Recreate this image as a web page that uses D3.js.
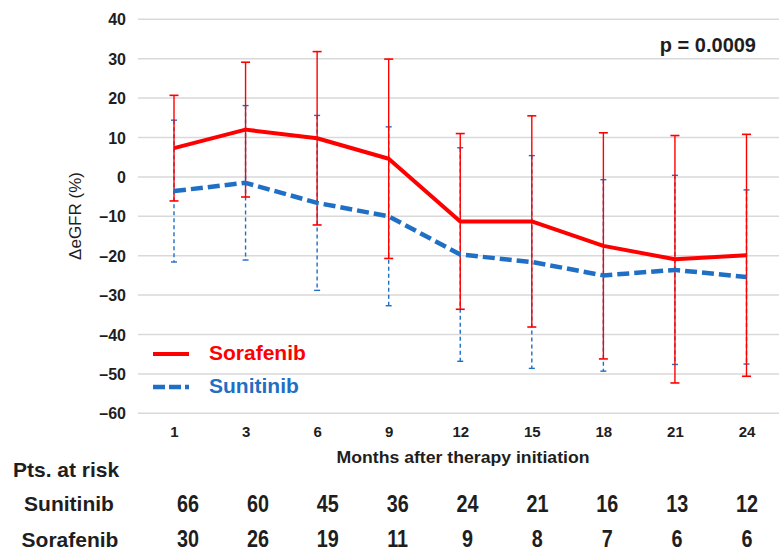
<!DOCTYPE html>
<html><head><meta charset="utf-8">
<script src="https://cdn.jsdelivr.net/npm/d3@7/dist/d3.min.js"></script>
<style>
html,body{margin:0;padding:0;background:#fff;}
svg{display:block;font-family:Arial,"Liberation Sans",sans-serif;}
</style></head>
<body><svg id="c" width="779" height="552"></svg>
<script>
const months = ["1","3","6","9","12","15","18","21","24"];
const sorafenibMean = [7.3, 12.0, 9.8, 4.6, -11.3, -11.3, -17.5, -20.9, -19.9];
const sorafenibSD   = [13.4, 17.1, 22.0, 25.3, 22.3, 26.8, 28.7, 31.4, 30.7];
const sunitinibMean = [-3.6, -1.5, -6.6, -10.0, -19.7, -21.6, -25.0, -23.6, -25.4];
const sunitinibSD   = [18.0, 19.6, 22.2, 22.7, 27.1, 27.0, 24.3, 24.0, 22.1];
const yTicks = [40, 30, 20, 10, 0, -10, -20, -30, -40, -50, -60];
const atRiskSunitinib = [66, 60, 45, 36, 24, 21, 16, 13, 12];
const atRiskSorafenib = [30, 26, 19, 11, 9, 8, 7, 6, 6];
const seriesNames = ["Sorafenib", "Sunitinib"];
const pText = "p = 0.0009";

const RED = "#ff0000", BLUE = "#1f6fc5", TXT = "#1e1e1e";
const FONT = "Arial, 'Liberation Sans', sans-serif";
const svg = d3.select("#c");

const x = d3.scalePoint().domain(months).range([174, 746.5]);
const y = d3.scaleLinear().domain([-60, 40]).range([413.3, 19.3]);
const xt = d3.scalePoint().domain(months).range([188, 747]);

// gridlines
svg.append("g").selectAll("line").data(yTicks).join("line")
  .attr("x1", 138).attr("x2", 779)
  .attr("y1", d => y(d)).attr("y2", d => y(d))
  .attr("stroke", "#d9d9d9").attr("stroke-width", 1.5);

// y axis
const yAxis = d3.axisLeft(y).tickValues(yTicks).tickSize(0).tickPadding(0)
  .tickFormat(d => d < 0 ? "\u2013" + Math.abs(d) : String(d));
const gy = svg.append("g").attr("transform", "translate(126,0)").call(yAxis);
gy.select(".domain").remove();
gy.attr("font-family", FONT).attr("font-size", 16);
gy.selectAll("text").attr("font-size", 16).attr("font-weight", "bold").attr("fill", TXT)
  .attr("dy", "0.35em");

// x axis labels
const xAxis = d3.axisBottom(x).tickSize(0).tickPadding(0);
const gx = svg.append("g").attr("transform", "translate(0,426)").call(xAxis);
gx.select(".domain").remove();
gx.attr("font-family", FONT).attr("font-size", 15);
gx.selectAll("text").attr("font-size", 15).attr("font-weight", "bold").attr("fill", TXT)
  .attr("dy", "0.7em");

// y title
svg.append("text").attr("transform", "translate(81,216) rotate(-90)")
  .attr("text-anchor", "middle").attr("font-size", 17).attr("fill", TXT)
  .text("\u0394eGFR (%)");

// Sunitinib error bars (dashed, behind)
const sunData = months.map((m, i) => ({m, mean: sunitinibMean[i], sd: sunitinibSD[i]}));
const sorData = months.map((m, i) => ({m, mean: sorafenibMean[i], sd: sorafenibSD[i]}));
const gSunErr = svg.append("g");
gSunErr.selectAll("line.v").data(sunData).join("line").attr("class", "v")
  .attr("x1", d => x(d.m)).attr("x2", d => x(d.m))
  .attr("y1", d => y(d.mean + d.sd)).attr("y2", d => y(d.mean - d.sd))
  .attr("stroke", BLUE).attr("stroke-width", 1.4).attr("stroke-dasharray", "4,3");
["+", "-"].forEach(s => {
  gSunErr.selectAll("line.c" + (s === "+" ? "u" : "l")).data(sunData).join("line")
    .attr("class", "c" + (s === "+" ? "u" : "l"))
    .attr("x1", d => x(d.m) - 3).attr("x2", d => x(d.m) + 3)
    .attr("y1", d => y(s === "+" ? d.mean + d.sd : d.mean - d.sd))
    .attr("y2", d => y(s === "+" ? d.mean + d.sd : d.mean - d.sd))
    .attr("stroke", BLUE).attr("stroke-width", 1.4);
});

// Sorafenib error bars
const gSorErr = svg.append("g");
gSorErr.selectAll("line.v").data(sorData).join("line").attr("class", "v")
  .attr("x1", d => x(d.m)).attr("x2", d => x(d.m))
  .attr("y1", d => y(d.mean + d.sd)).attr("y2", d => y(d.mean - d.sd))
  .attr("stroke", RED).attr("stroke-width", 1.4);
["+", "-"].forEach(s => {
  gSorErr.selectAll("line.c" + (s === "+" ? "u" : "l")).data(sorData).join("line")
    .attr("class", "c" + (s === "+" ? "u" : "l"))
    .attr("x1", d => x(d.m) - 4.5).attr("x2", d => x(d.m) + 4.5)
    .attr("y1", d => y(s === "+" ? d.mean + d.sd : d.mean - d.sd))
    .attr("y2", d => y(s === "+" ? d.mean + d.sd : d.mean - d.sd))
    .attr("stroke", RED).attr("stroke-width", 1.6);
});

// lines
const line = d3.line().x(d => x(d.m)).y(d => y(d.mean));
svg.append("path").datum(sunData).attr("d", line).attr("fill", "none")
  .attr("stroke", BLUE).attr("stroke-width", 4.5).attr("stroke-dasharray", "12,5")
  .attr("stroke-linejoin", "round");
svg.append("path").datum(sorData).attr("d", line).attr("fill", "none")
  .attr("stroke", RED).attr("stroke-width", 4).attr("stroke-linejoin", "round");

// legend
const legend = svg.append("g");
legend.append("line").attr("x1", 153).attr("x2", 189).attr("y1", 354).attr("y2", 354)
  .attr("stroke", RED).attr("stroke-width", 4);
legend.append("line").attr("x1", 153).attr("x2", 189).attr("y1", 387).attr("y2", 387)
  .attr("stroke", BLUE).attr("stroke-width", 4.5).attr("stroke-dasharray", "12,4");
legend.append("text").attr("x", 209).attr("y", 360).attr("font-size", 21).attr("font-weight", "bold")
  .attr("fill", RED).text(seriesNames[0]);
legend.append("text").attr("x", 209).attr("y", 393).attr("font-size", 21).attr("font-weight", "bold")
  .attr("fill", BLUE).text(seriesNames[1]);

// p value
svg.append("text").attr("x", 756).attr("y", 52).attr("text-anchor", "end")
  .attr("font-size", 20).attr("font-weight", "bold").attr("fill", TXT).text(pText);

// table
svg.append("text").attr("x", 463).attr("y", 463).attr("text-anchor", "middle")
  .attr("font-size", 17).attr("font-weight", "bold").attr("fill", TXT)
  .attr("textLength", 253).attr("lengthAdjust", "spacingAndGlyphs")
  .text("Months after therapy initiation");
svg.append("text").attr("x", 13).attr("y", 477).attr("font-size", 21).attr("font-weight", "bold")
  .attr("fill", TXT).text("Pts. at risk");
svg.append("text").attr("x", 69).attr("y", 511).attr("text-anchor", "middle").attr("font-size", 21)
  .attr("font-weight", "bold").attr("fill", TXT).text(seriesNames[1]);
svg.append("text").attr("x", 70).attr("y", 547).attr("text-anchor", "middle").attr("font-size", 21)
  .attr("font-weight", "bold").attr("fill", TXT).text(seriesNames[0]);
svg.append("g").selectAll("text").data(atRiskSunitinib).join("text")
  .attr("transform", (d, i) => `translate(${xt(months[i])},512) scale(0.86,1)`)
  .attr("text-anchor", "middle").attr("font-size", 23).attr("font-weight", "bold")
  .attr("fill", TXT).text(d => d);
svg.append("g").selectAll("text").data(atRiskSorafenib).join("text")
  .attr("transform", (d, i) => `translate(${xt(months[i])},547) scale(0.86,1)`)
  .attr("text-anchor", "middle").attr("font-size", 23).attr("font-weight", "bold")
  .attr("fill", TXT).text(d => d);
</script></body></html>
